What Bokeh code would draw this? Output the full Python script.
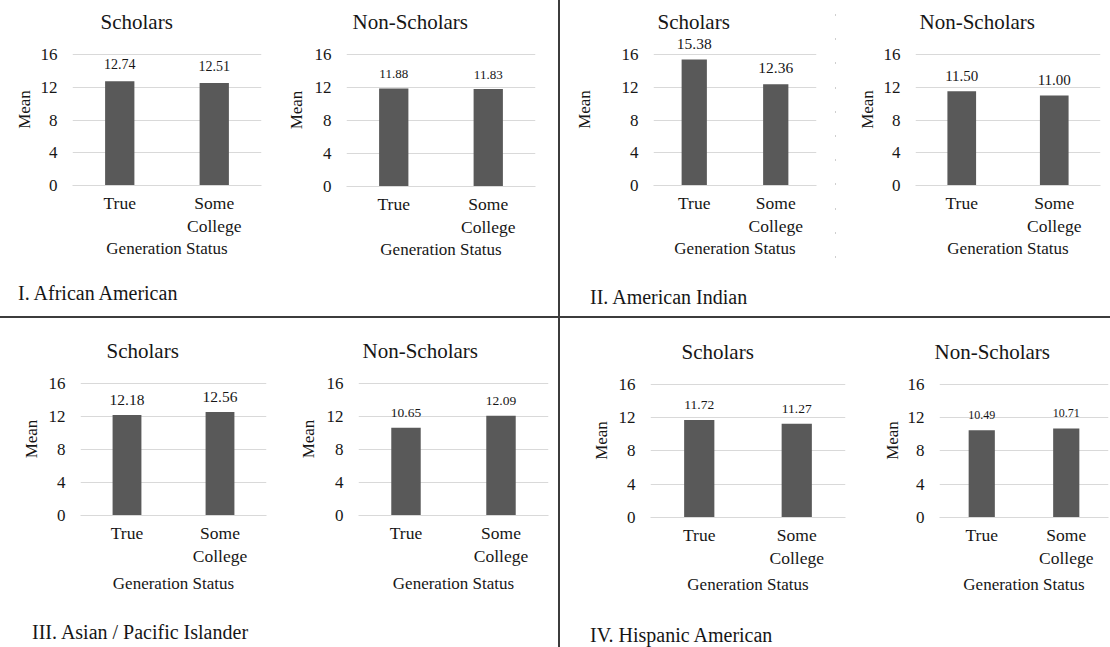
from bokeh.plotting import figure
from bokeh.models import (FactorRange, Range1d, FixedTicker, ColumnDataSource,
                          Spacer, CategoricalAxis, Div)
from bokeh.layouts import row, column
from bokeh.embed import file_html
from bokeh.resources import INLINE
from bokeh.core.properties import value

# ---- data -------------------------------------------------------------
generation_status = ["True", "Some College"]
mean_ticks = [0, 4, 8, 12, 16]
panel_titles = ["Scholars", "Non-Scholars"]
group_labels = [
    "I. African American",
    "II. American Indian",
    "III. Asian / Pacific Islander",
    "IV. Hispanic American",
]

african_american_scholars = [12.74, 12.51]
african_american_non_scholars = [11.88, 11.83]
american_indian_scholars = [15.38, 12.36]
american_indian_non_scholars = [11.50, 11.00]
asian_pacific_scholars = [12.18, 12.56]
asian_pacific_non_scholars = [10.65, 12.09]
hispanic_scholars = [11.72, 11.27]
hispanic_non_scholars = [10.49, 10.71]

# category names broken over two lines
first_line = [g.split(" ", 1)[0] for g in generation_status]
second_line = [(g.split(" ", 1) + [" "])[1] for g in generation_status]

# ---- styling -----------------------------------------------------------
FONT = "Liberation Serif"
TEXT = "#161616"
GRID = "#d9d9d9"
BAR = "#595959"
RULE = "#3c3c3c"

# per panel: borders (l, t, r, b), frame size, y max, title offset,
# value-label size, value-label lift, y-axis label standoff, x-axis title standoff
SPECS = [
    dict(b=(72, 28, 9, 90), f=(189, 152), ymax=18.565, toff=28, vs=14, lift=17, ms=4, xs=0),
    dict(b=(76, 33, 23, 84), f=(189, 153), ymax=18.545, toff=6, vs=13, lift=14, ms=6, xs=0),
    dict(b=(93, 33, 19, 85), f=(163, 152), ymax=18.565, toff=4, vs=15.5, lift=16, ms=25, xs=0),
    dict(b=(79, 33, 10, 85), f=(185, 152), ymax=18.565, toff=4, vs=15, lift=15, ms=4, xs=0),
    dict(b=(80, 43, 14, 94), f=(186, 153), ymax=18.545, toff=26, vs=15.5, lift=15, ms=5, xs=5),
    dict(b=(78, 44, 10, 93), f=(190, 153), ymax=18.545, toff=4, vs=13.5, lift=15, ms=6, xs=5),
    dict(b=(90, 45, 25, 91), f=(195, 154), ymax=18.526, toff=31, vs=13.5, lift=15, ms=5, xs=4),
    dict(b=(69, 42, 2, 94), f=(169, 154), ymax=18.526, toff=-5, vs=12, lift=15, ms=3, xs=4),
]


def category_axis(range_name, standoff):
    ax = CategoricalAxis(x_range_name=range_name)
    ax.axis_line_color = None
    ax.major_tick_line_color = None
    ax.minor_tick_line_color = None
    ax.major_tick_out = 0
    ax.major_tick_in = 0
    ax.major_label_standoff = standoff
    ax.major_label_text_font = FONT
    ax.major_label_text_font_size = "17.5px"
    ax.major_label_text_color = TEXT
    return ax


def make_panel(title, means, spec):
    l, t, r, b = spec["b"]
    fw, fh = spec["f"]
    p = figure(
        x_range=FactorRange(*generation_status),
        y_range=Range1d(0, spec["ymax"]),
        frame_width=fw, frame_height=fh,
        min_border_left=l, min_border_top=t, min_border_right=r, min_border_bottom=b,
        x_axis_location=None,
        toolbar_location=None, output_backend="svg", title=title,
    )
    p.outline_line_color = None
    p.background_fill_color = "white"
    p.border_fill_color = "white"
    p.extra_x_ranges = {
        "line1": FactorRange(*first_line),
        "line2": FactorRange(*second_line),
    }

    p.title.align = "left"
    p.title.offset = spec["toff"]
    p.title.standoff = 0
    p.title.text_font = FONT
    p.title.text_font_size = "21px"
    p.title.text_font_style = "normal"
    p.title.text_color = TEXT

    src = ColumnDataSource(dict(
        gen=generation_status,
        mean=means,
        label=[f"{m:.2f}" for m in means],
    ))
    p.vbar(x="gen", top="mean", width=0.31, source=src,
           fill_color=BAR, line_color=None)
    p.text(x="gen", y="mean", text="label", source=src,
           text_align="center", text_baseline="alphabetic", y_offset=-spec["lift"],
           text_font=value(FONT), text_font_size=value(f"{spec['vs']}px"),
           text_color=TEXT)

    p.xgrid.grid_line_color = None
    p.ygrid.ticker = FixedTicker(ticks=mean_ticks[1:])
    p.ygrid.grid_line_color = GRID

    ya = p.yaxis[0]
    ya.ticker = FixedTicker(ticks=mean_ticks)
    ya.axis_line_color = None
    ya.major_tick_line_color = None
    ya.minor_tick_line_color = None
    ya.major_tick_out = 0
    ya.major_tick_in = 0
    ya.major_label_standoff = 15
    ya.major_label_text_font = FONT
    ya.major_label_text_font_size = "17px"
    ya.major_label_text_color = TEXT
    ya.axis_label = "Mean"
    ya.axis_label_standoff = spec["ms"]
    ya.axis_label_text_font = FONT
    ya.axis_label_text_font_size = "17px"
    ya.axis_label_text_font_style = "normal"
    ya.axis_label_text_color = TEXT

    # first line of the category labels, carrying the zero line
    xa = category_axis("line1", 7)
    xa.axis_line_color = GRID
    p.add_layout(xa, "below")

    # second line of the category labels and the axis title
    xb = category_axis("line2", 0)
    xb.axis_label = "Generation Status"
    xb.axis_label_standoff = spec["xs"]
    xb.axis_label_text_font = FONT
    xb.axis_label_text_font_size = "17px"
    xb.axis_label_text_font_style = "normal"
    xb.axis_label_text_color = TEXT
    p.add_layout(xb, "below")
    return p


def group_caption(text, width, height, top, left):
    html = (f'<div style="margin:0; padding:{top}px 0 0 {left}px; '
            f"font-family:'{FONT}', serif; font-size:20px; line-height:23px; "
            f'color:{TEXT}; white-space:nowrap;">{text}</div>')
    return Div(text=html, width=width, height=height, margin=(0, 0, 0, 0))


p1 = make_panel(panel_titles[0], african_american_scholars, SPECS[0])
p2 = make_panel(panel_titles[1], african_american_non_scholars, SPECS[1])
p3 = make_panel(panel_titles[0], american_indian_scholars, SPECS[2])
p4 = make_panel(panel_titles[1], american_indian_non_scholars, SPECS[3])
p5 = make_panel(panel_titles[0], asian_pacific_scholars, SPECS[4])
p6 = make_panel(panel_titles[1], asian_pacific_non_scholars, SPECS[5])
p7 = make_panel(panel_titles[0], hispanic_scholars, SPECS[6])
p8 = make_panel(panel_titles[1], hispanic_non_scholars, SPECS[7])

# faint dashed separator between the two American Indian panels
dashes = column(
    Spacer(width=1, height=262, styles={
        "background-image": "repeating-linear-gradient(to bottom, transparent 0px, "
                            "transparent 14px, #cfcfcf 14px, #cfcfcf 16px, "
                            "transparent 16px, transparent 24.2px)"}),
    Spacer(width=1, height=8),
    spacing=0,
)

q1 = column(row(p1, p2, spacing=0), group_caption(group_labels[0], 558, 46, 12, 18), spacing=0)
q2 = column(row(p3, dashes, p4, spacing=0), group_caption(group_labels[1], 550, 46, 16, 30), spacing=0)
q3 = column(row(p5, p6, spacing=0), group_caption(group_labels[2], 558, 39, 13, 32), spacing=0)
q4 = column(row(p7, p8, spacing=0), group_caption(group_labels[3], 550, 39, 16, 30), spacing=0)

# quadrant rules
vrule_top = Spacer(width=2, height=316, styles={"background-color": RULE})
vrule_bottom = Spacer(width=2, height=329, styles={"background-color": RULE})
hrule = Spacer(width=1110, height=2, styles={"background-color": RULE})

top = row(q1, vrule_top, q2, spacing=0)
bottom = row(q3, vrule_bottom, q4, spacing=0)
layout = column(top, hrule, bottom, spacing=0)

open("out.html", "w").write(file_html(layout, INLINE))
